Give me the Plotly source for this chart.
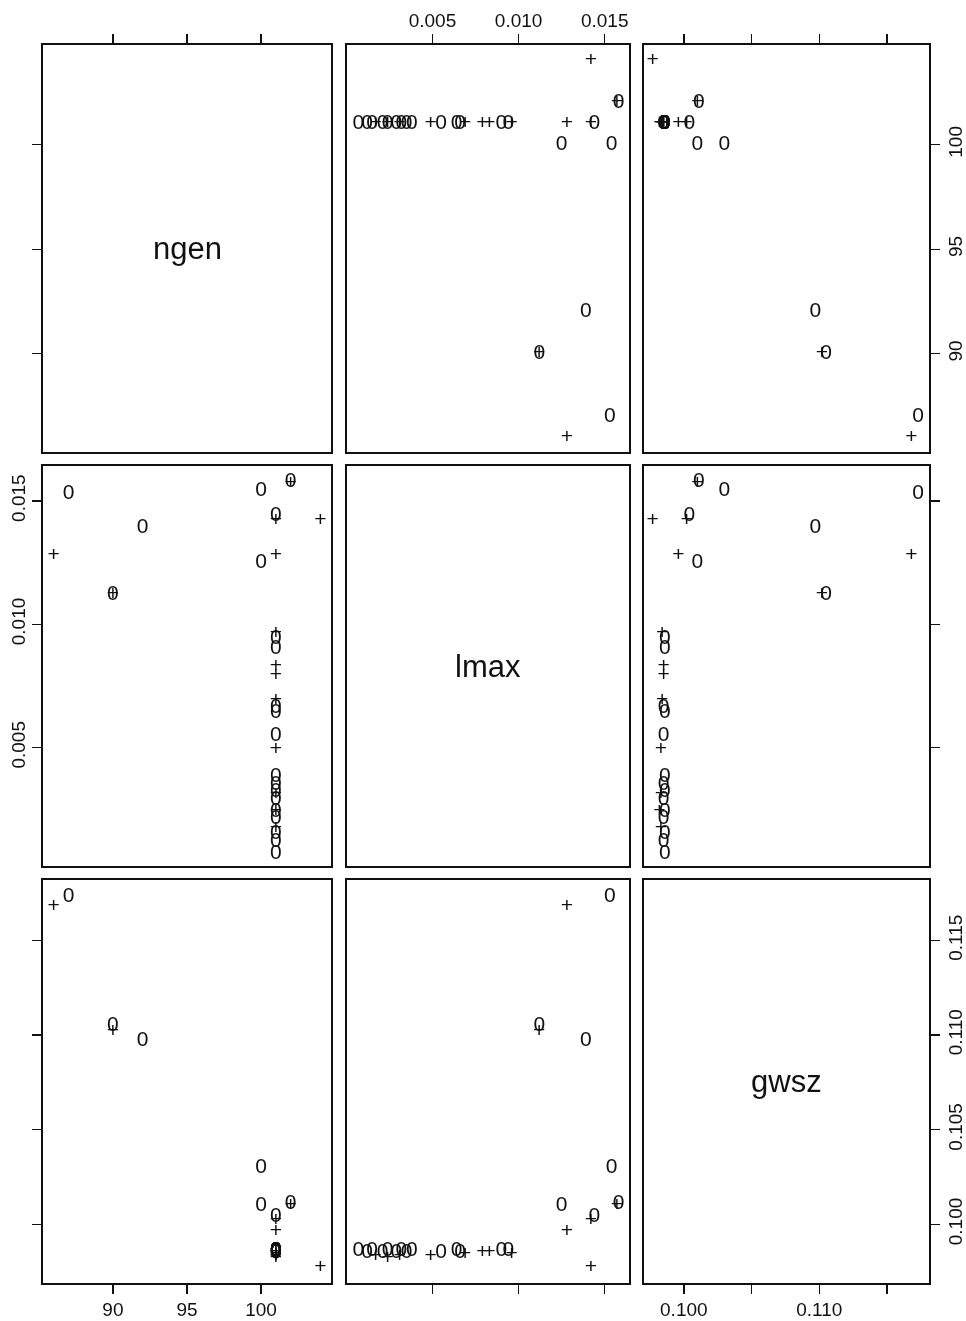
import plotly.graph_objects as go

# ---------------- data ----------------
var_names = ["ngen", "lmax", "gwsz"]

# group plotted with "+"
plus_ngen = [86, 90, 101, 101, 102, 104, 101, 101, 101, 101, 101, 101, 101, 101]
plus_lmax = [0.0128, 0.0112, 0.0128, 0.0142, 0.0157, 0.0142, 0.0096, 0.0083,
             0.0079, 0.0069, 0.0049, 0.0031, 0.0024, 0.0017]
plus_gwsz = [0.1168, 0.1102, 0.0996, 0.1002, 0.1010, 0.0977, 0.0984, 0.0985,
             0.0985, 0.0984, 0.0983, 0.0983, 0.0982, 0.0983]

# group plotted with "0"
zero_ngen = [87, 90, 92, 100, 100, 101, 102,
             101, 101, 101, 101, 101, 101, 101, 101, 101, 101, 101, 101, 101, 101]
zero_lmax = [0.0153, 0.0112, 0.0139, 0.0154, 0.0125, 0.0144, 0.0158,
             0.0094, 0.0090, 0.0066, 0.0064, 0.0055, 0.0038, 0.0035, 0.0032,
             0.0029, 0.0024, 0.0021, 0.0015, 0.0012, 0.0007]
zero_gwsz = [0.1173, 0.1105, 0.1097, 0.1030, 0.1010, 0.1004, 0.1011,
             0.0986, 0.0986, 0.0985, 0.0986, 0.0985, 0.0986, 0.0985, 0.0986,
             0.0985, 0.0986, 0.0985, 0.0986, 0.0985, 0.0986]

tick_vals = {
    "ngen": [90, 95, 100],
    "lmax": [0.005, 0.010, 0.015],
    "gwsz": [0.100, 0.105, 0.110, 0.115],
}
tick_text = {
    "ngen": ["90", "95", "100"],
    "lmax": ["0.005", "0.010", "0.015"],
    "gwsz": ["0.100", "0.105", "0.110", "0.115"],
}
tick_text_bottom_gwsz = ["0.100", "", "0.110", ""]

# ---------------- layout parameters ----------------
W, H = 966, 1321
col_px = [(43, 331), (347, 629), (644, 929)]
row_px = [(45, 452), (466, 866), (880, 1283)]
x_range = {"ngen": [85.28, 104.72], "lmax": [0.00004, 0.01641], "gwsz": [0.09706, 0.1181]}
y_range = {"ngen": [85.30, 104.77], "lmax": [0.00020, 0.01642], "gwsz": [0.0969, 0.1182]}

FONT = "Liberation Sans, Arial, Helvetica, sans-serif"
INK = "#111111"
TICKFONT = dict(family=FONT, size=19, color=INK)

data = {
    "+": {"ngen": plus_ngen, "lmax": plus_lmax, "gwsz": plus_gwsz},
    "0": {"ngen": zero_ngen, "lmax": zero_lmax, "gwsz": zero_gwsz},
}

fig = go.Figure()
layout = dict(
    width=W, height=H, autosize=False,
    margin=dict(l=0, r=0, t=0, b=0, autoexpand=False),
    paper_bgcolor="white", plot_bgcolor="white",
    showlegend=False,
    font=dict(family=FONT, color=INK),
)
annotations = []

for r in range(3):
    for c in range(3):
        k = r * 3 + c + 1
        xs = "" if k == 1 else str(k)
        xv, yv = var_names[c], var_names[r]
        x0, x1 = col_px[c]
        y0, y1 = row_px[r]

        xa = dict(
            domain=[x0 / W, x1 / W], range=x_range[xv], anchor="y" + xs,
            showline=True, mirror=True, linecolor=INK, linewidth=1.6,
            showgrid=False, zeroline=False, fixedrange=True, automargin=False,
            tickfont=TICKFONT, ticklen=9, tickwidth=1.4, tickcolor=INK,
        )
        if r == 0:
            xa.update(side="top", ticks="outside", tickmode="array",
                      tickvals=tick_vals[xv], ticktext=tick_text[xv],
                      showticklabels=(c == 1))
        elif r == 2:
            tt = tick_text_bottom_gwsz if c == 2 else tick_text[xv]
            xa.update(side="bottom", ticks="outside", tickmode="array",
                      tickvals=tick_vals[xv], ticktext=tt,
                      showticklabels=(c != 1))
        else:
            xa.update(ticks="", showticklabels=False)

        ya = dict(
            domain=[1 - y1 / H, 1 - y0 / H], range=y_range[yv], anchor="x" + xs,
            showline=True, mirror=True, linecolor=INK, linewidth=1.6,
            showgrid=False, zeroline=False, fixedrange=True, automargin=False,
            tickfont=TICKFONT, ticklen=9, tickwidth=1.4, tickcolor=INK,
            tickangle=-90,
        )
        if c == 0:
            ya.update(side="left", ticks="outside", tickmode="array",
                      tickvals=tick_vals[yv], ticktext=tick_text[yv],
                      showticklabels=(r == 1))
        elif c == 2:
            ya.update(side="right", ticks="outside", tickmode="array",
                      tickvals=tick_vals[yv], ticktext=tick_text[yv],
                      showticklabels=(r != 1))
        else:
            ya.update(ticks="", showticklabels=False)

        layout["xaxis" + xs] = xa
        layout["yaxis" + xs] = ya

        if r == c:
            # empty trace so that the diagonal panel's frame and ticks are drawn
            fig.add_trace(go.Scatter(
                x=[None], y=[None], mode="markers",
                xaxis="x" + xs, yaxis="y" + xs, hoverinfo="skip",
            ))
            annotations.append(dict(
                xref="x" + xs + " domain", yref="y" + xs + " domain",
                x=0.5, y=0.5, text=var_names[r], showarrow=False,
                font=dict(family=FONT, size=31, color=INK),
                xanchor="center", yanchor="middle",
            ))
        else:
            for sym in ["0", "+"]:
                fig.add_trace(go.Scatter(
                    x=data[sym][xv], y=data[sym][yv],
                    mode="text", text=[sym] * len(data[sym][xv]),
                    textposition="middle center",
                    textfont=dict(family=FONT, size=21, color=INK),
                    marker=dict(color=INK),
                    xaxis="x" + xs, yaxis="y" + xs,
                    hoverinfo="skip",
                ))

layout["annotations"] = annotations
fig.update_layout(**layout)
fig.write_html(
    "out.html",
    config={"displayModeBar": False, "staticPlot": True},
    post_script=(
        "document.body.style.margin='0';document.body.style.padding='0';"
        "document.querySelectorAll('.plotly-graph-div').forEach(function(d){"
        "d.style.filter='grayscale(1)';});"
    ),
)
